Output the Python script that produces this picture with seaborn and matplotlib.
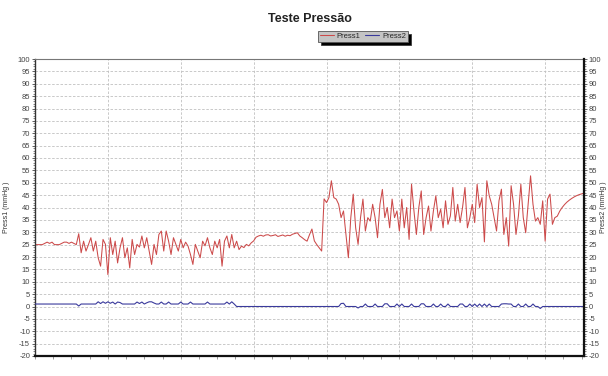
import numpy as np
import pandas as pd
import matplotlib
matplotlib.use('Agg')
import matplotlib.pyplot as plt
import seaborn as sns
from matplotlib.ticker import MultipleLocator, NullFormatter

# Press1 (mmHg), one value per sample
press1_rest = [25, 25, 25, 25, 25.5, 26, 25.5, 26, 25, 25, 25, 25.5, 26, 26, 25.5, 26, 25.5, 25]
press1_phase1 = [29.4, 21.7, 26.4, 22.4, 25.0, 27.8, 22.4, 26.4, 19.7, 16.3, 27.1, 25.1,
                 12.9, 27.8, 21.0, 26.4, 17.6, 23.7, 27.8, 19.7, 23.7, 15.6, 27.1, 21.0,
                 25.1, 24.0, 28.5, 23.7, 27.8, 22.4, 17.0, 25.1, 21.0, 29.1, 30.5, 22.4,
                 30.5, 26.4, 21.0, 27.8, 25.1, 22.4, 27.1, 23.7, 26.0, 24.4, 21.0, 17.0,
                 25.1, 22.4, 19.7, 26.4, 24.5, 27.8, 23.7, 21.0, 26.4, 23.7, 27.1, 16.3,
                 26.4, 28.5, 23.7, 29.1, 23.7, 26.4, 23.0, 24.4, 23.8, 25.1, 24.5, 25.7]
press1_plateau = [26.5, 28.0, 28.5, 28.8, 28.4, 28.9, 29.0, 28.5, 28.7, 29.0, 28.3, 28.6,
                  28.9, 28.4, 28.8, 28.6, 29.2, 29.5, 29.8, 28.5, 27.8, 27.0, 26.4, 29.0,
                  31.3, 26.5, 25.0, 23.7, 22.4]
press1_phase2 = [43.5, 42.0, 44.0, 50.8, 44.0, 43.4, 41.3, 35.9, 38.6, 29.1, 19.7, 35.9,
                 45.4, 31.8, 25.1, 35.9, 43.4, 30.5, 35.9, 34.5, 41.3, 35.9, 27.8, 41.3,
                 47.3, 35.9, 40.0, 31.8, 43.4, 35.9, 38.6, 30.5, 43.4, 31.8, 40.0, 27.1,
                 49.4, 38.6, 29.1, 40.0, 46.7, 29.1, 35.9, 40.6, 30.5, 38.6, 44.7, 35.9,
                 39.3, 31.8, 42.7, 33.2, 36.6, 48.1, 34.5, 41.3, 33.9, 40.0, 48.1, 31.8,
                 35.9, 41.3, 33.9, 49.4, 40.0, 44.0, 26.1, 50.8, 44.7, 41.3, 35.9, 30.5,
                 42.7, 47.4, 29.1, 35.9, 24.4, 48.8, 41.3, 29.1, 36.6, 49.4, 35.9, 29.8,
                 41.3, 52.8, 41.3, 34.5, 35.9, 33.2, 42.7, 26.4, 43.4, 45.4, 33.2, 35.9]
press1_recovery = [36.5, 38.5, 40.0, 41.2, 42.2, 43.0, 43.7, 44.3, 44.8, 45.2, 45.5, 45.8,
                   46.0, 46.1, 46.2, 46.2, 46.2]

# Press2 (mmHg)
press2 = [1, 1, 1, 1, 1, 1, 1, 1, 1, 1, 1, 1, 1, 1, 1, 1, 1, 1,
          0.2, 1, 1, 1, 1, 1, 1, 1,
          1.9, 1.2, 1.9, 1.3, 1.9, 1.3, 1.8, 1.0, 1.8, 1.6, 1.0,
          1, 1, 1, 1, 1,
          1.8, 1.2, 1.8, 1.0, 1.5, 1.9, 1.9, 1.4, 1.0,
          1.0, 1.8, 1.0, 1.0, 1.8, 1.0, 1, 1, 1, 1.8, 1.0,
          1, 1, 1.8, 1.0, 1, 1, 1, 1, 1, 1.8, 1.0,
          1, 1, 1, 1, 1, 1, 1.8, 1.0, 1.9, 1.0,
          0, 0, 0, 0, 0, 0, 0, 0, 0, 0, 0, 0, 0, 0, 0, 0, 0, 0, 0, 0, 0,
          0, 0, 0, 0, 0, 0, 0, 0, 0, 0, 0, 0, 0, 0, 0, 0, 0, 0, 0, 0, 0, 0,
          1.2, 1.3, 0, 0, 0, 0, 0, -0.6, 0, 0, 1.0, 0, 0, 0, 1.0, 0,
          0, 0, 1.1, 1.1, 0, 0, 0, 1.0, 0, 1.0, 0, 0, 0, 1.0, 0,
          0, 0, 1.1, 1.1, 0, 0, 0, 1.0, 0, 0, 1.0, 0, 0, 1.0, 0,
          0, 0, 0, 1.0, 1.0, 0, 0, 1.0, 0, 1.0, 0, 1.0, 0, 1.0, 0, 1.0, 0,
          0, 0, 0, 1.0, 1.1, 1.1, 1.0, 1.0, 0, 0, 1.0, 0, 0, 1.0, 0, 0, 1.0, 0, 0,
          -0.8, 0, 0, 0, 0, 0, 0, 0, 0, 0, 0, 0, 0, 0, 0, 0, 0, 0, 0]

press1 = press1_rest + press1_phase1 + press1_plateau + press1_phase2 + press1_recovery
n = min(len(press1), len(press2))
df = pd.DataFrame({'sample': np.arange(n), 'Press1': press1[:n], 'Press2': press2[:n]})

RED = '#cc4a4a'
BLUE = '#3a3a9c'

sns.set_style('white')
plt.rcParams['font.family'] = ['Liberation Sans', 'DejaVu Sans']
plt.rcParams['axes.unicode_minus'] = False

fig = plt.figure(figsize=(6.08, 3.76), dpi=100)
ax = fig.add_axes([35 / 608, 1 - 356 / 376, 549 / 608, 297 / 376])
sns.lineplot(data=df, x='sample', y='Press1', ax=ax, color=RED, lw=0.75, legend=False)
ax2 = ax.twinx()
sns.lineplot(data=df, x='sample', y='Press2', ax=ax2, color=BLUE, lw=0.8, legend=False)

for a in (ax, ax2):
    a.set_ylim(-20, 100)
    a.yaxis.set_major_locator(MultipleLocator(5))
    a.yaxis.set_minor_locator(MultipleLocator(1))
    a.tick_params(axis='y', which='major', labelsize=5.5, length=2.5, width=0.6,
                  colors='#444444', pad=1)
    a.tick_params(axis='y', which='minor', length=1.2, width=0.5, colors='#555555')
ax.set_xlim(0, n - 1)
ax.xaxis.set_major_locator(MultipleLocator(30))
ax.xaxis.set_minor_locator(MultipleLocator(7.5))
ax.xaxis.set_major_formatter(NullFormatter())
ax.tick_params(axis='x', which='both', bottom=True, length=2, width=0.6, colors='#888888')
ax.tick_params(axis='y', left=True, right=False)
ax2.tick_params(axis='y', left=False, right=True)

ax.grid(True, which='major', ls=(0, (3, 2)), color='#c0c0c0', lw=0.6)
ax2.grid(False)
ax.set_xlabel('')
ax.set_ylabel('Press1 (mmHg )', fontsize=5, color='#333333')
ax.yaxis.set_label_coords(-0.045, 0.5)
ax2.set_ylabel('Press2 (mmHg )', fontsize=5, color='#333333', rotation=90)
ax2.yaxis.set_label_coords(1.03, 0.5)

ax.spines['left'].set_color('#333333')
ax.spines['left'].set_linewidth(1.0)
ax.spines['bottom'].set_color('#111111')
ax.spines['bottom'].set_linewidth(1.6)
ax.spines['top'].set_color('#777777')
ax.spines['top'].set_linewidth(0.8)
ax2.spines['right'].set_color('#111111')
ax2.spines['right'].set_linewidth(1.6)
for s in ('left', 'top', 'bottom'):
    ax2.spines[s].set_visible(False)

fig.text(310 / 608, 1 - 19 / 376, 'Teste Pressão', ha='center', va='center',
         fontsize=9, fontweight='bold', color='#222222')

handles = [ax.get_lines()[0], ax2.get_lines()[0]]
leg = fig.legend(handles, ['Press1', 'Press2'], loc='center',
                 bbox_to_anchor=(363 / 608, 1 - 36.5 / 376), ncol=2, fontsize=5.5,
                 frameon=True, fancybox=False, facecolor='#c4c4c4', edgecolor='#555555',
                 shadow={'facecolor': 'black', 'alpha': 1}, handlelength=1.8,
                 handletextpad=0.4, columnspacing=0.6, borderpad=0.25)
leg.get_frame().set_linewidth(0.6)
leg.get_frame().set_alpha(1)

fig.savefig('out.png', dpi=100)
